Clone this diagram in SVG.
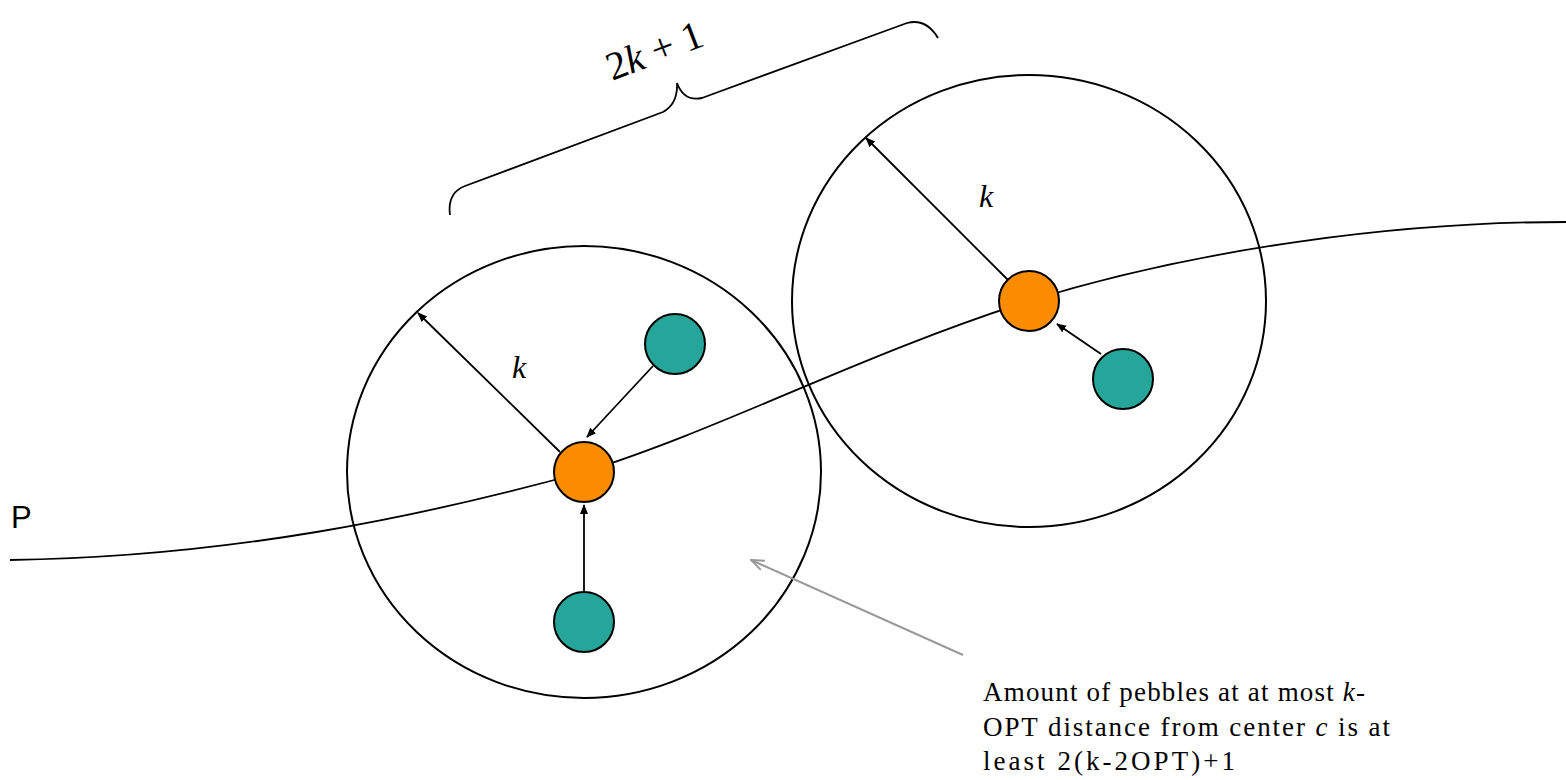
<svg xmlns="http://www.w3.org/2000/svg" width="1566" height="780" viewBox="0 0 1566 780">
<style>
.big{fill:none;stroke:#000;stroke-width:2}
.pt{stroke:#000;stroke-width:2}
.or{fill:#fb8c00}
.te{fill:#26a69a}
.ln{fill:none;stroke:#000;stroke-width:1.8}
.math{font-family:"Liberation Serif","DejaVu Serif",serif;font-style:italic}
.txt{font-family:"Liberation Serif","DejaVu Serif",serif;font-size:27px;fill:#000}
</style>
<defs>
<marker id="ah" markerWidth="10" markerHeight="10" refX="9" refY="5" orient="auto" markerUnits="userSpaceOnUse">
<path d="M0,1 L10,5 L0,9 Z" fill="#000"/>
</marker>
<marker id="ag" markerWidth="14" markerHeight="12" refX="13" refY="6" orient="auto" markerUnits="userSpaceOnUse">
<path d="M0,1 L13,6 L0,11" fill="none" stroke="#999" stroke-width="2"/>
</marker>
</defs>
<g id="range1"><ellipse class="big" cx="584" cy="472" rx="237" ry="226"/></g>
<g id="range2"><ellipse class="big" cx="1029" cy="301" rx="237" ry="226"/></g>
<g id="path-P"><path class="ln" d="M10 560 C 230 557 420 517 584 472 C 720 430 860 355 1029 301 C 1200 248 1400 222 1566 222"/></g>
<g id="connectors">
<line class="ln" x1="560" y1="452" x2="418" y2="313" marker-end="url(#ah)"/>
<line class="ln" x1="1008" y1="280" x2="866" y2="138" marker-end="url(#ah)"/>
<line class="ln" x1="653" y1="366" x2="587" y2="437" marker-end="url(#ah)"/>
<line class="ln" x1="584" y1="591" x2="584" y2="505" marker-end="url(#ah)"/>
<line class="ln" x1="1101" y1="354" x2="1057" y2="324" marker-end="url(#ah)"/>
<line x1="963" y1="655" x2="751" y2="560" stroke="#999" stroke-width="2" marker-end="url(#ag)"/>
</g>
<g id="center1"><circle class="pt or" cx="584" cy="472" r="30"/></g>
<g id="center2"><circle class="pt or" cx="1029" cy="301" r="30"/></g>
<g id="pebble1"><circle class="pt te" cx="675" cy="344" r="30"/></g>
<g id="pebble2"><circle class="pt te" cx="584" cy="622" r="30"/></g>
<g id="pebble3"><circle class="pt te" cx="1123" cy="379" r="30"/></g>
<g id="brace">
<path class="ln" d="M450 215 Q447 193 465 186 L663 112 Q678 104 677 83 Q684 102 702 98 L907 23 Q926 18 938 38"/>
</g>
<g id="labels">
<text class="math" x="519" y="378" font-size="32" text-anchor="middle">k</text>
<text class="math" x="986" y="207" font-size="32" text-anchor="middle">k</text>
<text x="654" y="64" font-size="40" text-anchor="middle" transform="rotate(-21 654 50)" font-family="Liberation Serif, DejaVu Serif, serif">2<tspan font-style="italic">k</tspan> + 1</text>
<text x="11" y="528" font-size="31" font-family="Liberation Sans, Arial, sans-serif">P</text>
<text class="txt" x="983" y="701" textLength="382" lengthAdjust="spacing">Amount of pebbles at at most <tspan font-style="italic">k</tspan>-</text>
<text class="txt" x="983" y="736" textLength="407" lengthAdjust="spacing">OPT distance from center <tspan font-style="italic">c</tspan> is at</text>
<text class="txt" x="983" y="770" textLength="252" lengthAdjust="spacing">least 2(k-2OPT)+1</text>
</g>
</svg>
